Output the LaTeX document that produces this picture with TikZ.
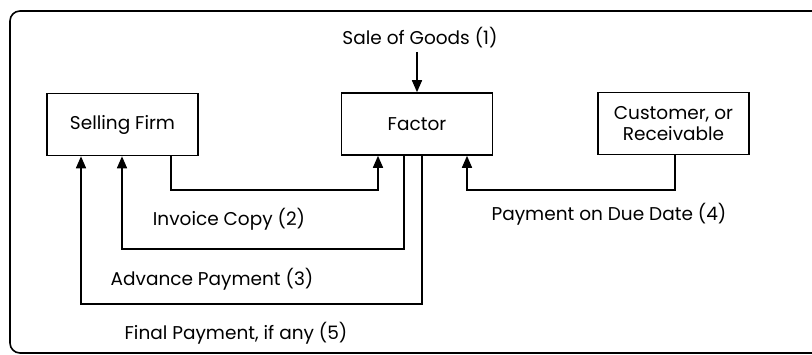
\documentclass[tikz,border=0pt]{standalone}
\usepackage{fontspec}
\setmainfont{Poppins}
\usetikzlibrary{arrows.meta}
\tikzset{
  block/.style={draw, line width=1.6pt, minimum width=151pt, minimum height=62pt, inner sep=0pt, align=center},
  flow/.style={line width=1.6pt, -{Triangle[length=12pt,width=10pt]}},
  lbl/.style={inner sep=0pt}
}
\begin{document}
\begin{tikzpicture}[x=1pt, y=-1pt, every node/.style={font=\fontsize{18.5}{21}\selectfont}]
  \useasboundingbox (0,0) rectangle (812,355);
  \draw[line width=1.6pt, rounded corners=10pt] (10,11) rectangle (840,353);
  % boxes
  \node[block] (sell) at (122.5,124.5) {Selling Firm};
  \node[block] (factor) at (417,124) {Factor};
  \node[block] (cust) at (673.5,123.5) {Customer, or\\Receivable};
  % labels
  \node[lbl] (sale) at (420,38) {Sale of Goods (1)};
  \node[lbl] (invlbl) at (229,219) {Invoice Copy (2)};
  \node[lbl] (advlbl) at (212,279) {Advance Payment (3)};
  \node[lbl] (finlbl) at (236,333) {Final Payment, if any (5)};
  \node[lbl] (duelbl) at (609,214) {Payment on Due Date (4)};
  % bends
  \coordinate (inv1) at (171,190);
  \coordinate (inv2) at (378,190);
  \coordinate (adv1) at (404,249);
  \coordinate (adv2) at (122,249);
  \coordinate (fin1) at (422,304);
  \coordinate (fin2) at (81,304);
  \coordinate (due1) at (675,190);
  \coordinate (due2) at (467,190);
  % flows
  \draw[flow] (factor.north |- 0,52) -- (factor.north);
  \draw[flow] (sell.south -| inv1) -- (inv1) -- (inv2) -- (factor.south -| inv2);
  \draw[flow] (factor.south -| adv1) -- (adv1) -- (adv2) -- (sell.south -| adv2);
  \draw[flow] (factor.south -| fin1) -- (fin1) -- (fin2) -- (sell.south -| fin2);
  \draw[flow] (cust.south -| due1) -- (due1) -- (due2) -- (factor.south -| due2);
\end{tikzpicture}
\end{document}
